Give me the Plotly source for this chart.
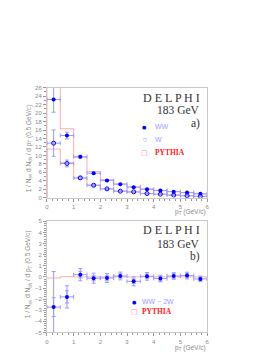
import plotly.graph_objects as go

# ---------------- data ----------------
bin_centers = [0.25, 0.75, 1.25, 1.75, 2.25, 2.75, 3.25, 3.75, 4.25, 4.75, 5.25, 5.75]
bin_edges = [0.0, 0.5, 1.0, 1.5, 2.0, 2.5, 3.0, 3.5, 4.0, 4.5, 5.0, 5.5, 6.0]
bin_half = [0.25] * 12

ww_vals = [23.2, 14.7, 9.7, 5.8, 4.05, 3.2, 2.5, 2.0, 1.7, 1.45, 1.22, 0.95]
ww_err = [3.0, 0.8, 0.35, 0.25, 0.2, 0.15, 0.12, 0.1, 0.1, 0.1, 0.08, 0.08]
w_vals = [12.9, 8.1, 4.7, 2.95, 2.1, 1.55, 1.4, 1.0, 0.85, 0.63, 0.47, 0.32]
w_err = [3.1, 0.8, 0.35, 0.25, 0.15, 0.12, 0.1, 0.1, 0.08, 0.08, 0.06, 0.06]
pythia_ww = [27.0, 16.3, 9.5, 6.2, 4.3, 3.3, 2.6, 2.1, 1.75, 1.45, 1.2, 0.95]
pythia_w = [11.5, 8.3, 4.6, 3.0, 2.1, 1.6, 1.35, 1.0, 0.85, 0.65, 0.5, 0.35]

diff_vals = [-2.72, -1.8, 0.2, -0.12, -0.1, 0.08, -0.4, 0.05, -0.15, 0.08, 0.12, -0.18]
diff_err_stat = [0.85, 0.55, 0.3, 0.22, 0.2, 0.2, 0.2, 0.2, 0.2, 0.2, 0.2, 0.15]
diff_err_tot = [3.2, 1.0, 0.55, 0.45, 0.4, 0.35, 0.4, 0.35, 0.3, 0.3, 0.3, 0.25]
pythia_diff = [-0.1, 0.02, 0.0, 0.0, 0.0, 0.0, 0.0, 0.0, 0.0, 0.0, 0.0, 0.0]

x_ticks = [0, 1, 2, 3, 4, 5, 6]
y_ticks_top = list(range(0, 27, 2))
y_ticks_bot = list(range(-5, 6, 1))

# ---------------- styling ----------------
BLUE = "#0000ff"
ERR = "#9a9aff"
RED = "rgba(255,70,70,0.45)"
GRID = "#c8c8c8"
TICKC = "#999999"
MS = 4

def step(vals):
    xs = [bin_edges[0]] + bin_edges
    ys = [0.0] + vals + [vals[-1]]
    return xs, ys

fig = go.Figure()

# ---- top panel ----
for pv in (pythia_ww, pythia_w):
    xs, ys = step(pv)
    fig.add_trace(go.Scatter(x=xs, y=ys, mode="lines", line=dict(color=RED, width=1, shape="hv"),
                             showlegend=False, xaxis="x", yaxis="y", hoverinfo="skip"))

fig.add_trace(go.Scatter(
    x=bin_centers, y=ww_vals, mode="markers", showlegend=False,
    marker=dict(symbol="circle", size=MS, color=BLUE),
    error_y=dict(type="data", array=ww_err, color=ERR, thickness=1, width=2),
    error_x=dict(type="data", array=bin_half, color=ERR, thickness=1, width=2),
    xaxis="x", yaxis="y"))
fig.add_trace(go.Scatter(
    x=bin_centers, y=w_vals, mode="markers", showlegend=False,
    marker=dict(symbol="circle-open", size=MS, color=BLUE, line=dict(width=1)),
    error_y=dict(type="data", array=w_err, color=ERR, thickness=1, width=2),
    error_x=dict(type="data", array=bin_half, color=ERR, thickness=1, width=2),
    xaxis="x", yaxis="y"))

# ---- bottom panel ----
xs, ys = step(pythia_diff)
fig.add_trace(go.Scatter(x=xs[1:], y=ys[1:], mode="lines", line=dict(color=RED, width=1, shape="hv"),
                         showlegend=False, xaxis="x2", yaxis="y2", hoverinfo="skip"))
fig.add_trace(go.Scatter(
    x=bin_centers, y=diff_vals, mode="markers", showlegend=False,
    marker=dict(size=MS, color="rgba(0,0,0,0)"),
    error_y=dict(type="data", array=diff_err_tot, color=ERR, thickness=1, width=2),
    xaxis="x2", yaxis="y2", hoverinfo="skip"))
fig.add_trace(go.Scatter(
    x=bin_centers, y=diff_vals, mode="markers", showlegend=False,
    marker=dict(symbol="circle", size=MS, color=BLUE),
    error_y=dict(type="data", array=diff_err_stat, color=ERR, thickness=1, width=2),
    error_x=dict(type="data", array=bin_half, color=ERR, thickness=1, width=2),
    xaxis="x2", yaxis="y2"))

W, H = 273, 353
xdom = [37.5 / W, 200 / W]
ytop = [1 - 190 / H, 1 - 78 / H]
ybot = [1 - 327 / H, 1 - 214 / H]

axis_common = dict(showline=True, linecolor=GRID, linewidth=1, mirror=True, showgrid=False,
                   zeroline=False, ticks="outside", ticklen=3, tickcolor=TICKC,
                   tickfont=dict(size=6, color="#888888", family="Liberation Sans"))

ytitle = "1 / N<sub>ev</sub> d N<sub>ch</sub> / d p<sub>T</sub> (0.5 GeV/c)"

fig.update_layout(
    width=W, height=H, margin=dict(l=0, r=0, t=0, b=0),
    paper_bgcolor="white", plot_bgcolor="white", showlegend=False,
    xaxis=dict(domain=xdom, range=[0, 6], tickvals=x_ticks, anchor="y",
               minor=dict(dtick=0.2, ticks="outside", ticklen=2, tickcolor=TICKC), **axis_common),
    yaxis=dict(domain=ytop, range=[0, 26], tickvals=y_ticks_top, anchor="x",
               minor=dict(dtick=1, ticks="outside", ticklen=2, tickcolor=TICKC), **axis_common),
    xaxis2=dict(domain=xdom, range=[0, 6], tickvals=x_ticks, anchor="y2",
                minor=dict(dtick=0.2, ticks="outside", ticklen=2, tickcolor=TICKC), **axis_common),
    yaxis2=dict(domain=ybot, range=[-5, 5], tickvals=y_ticks_bot, anchor="x2",
                minor=dict(dtick=0.2, ticks="outside", ticklen=2, tickcolor=TICKC), **axis_common),
)

def ann(text, x, y, font, xanchor="right", **kw):
    fig.add_annotation(text=text, xref="paper", yref="paper", x=x / W, y=1 - y / H,
                       xanchor=xanchor, yanchor="middle", showarrow=False, font=font, **kw)

big = dict(family="Liberation Serif", size=12, color="#333333")
mid = dict(family="Liberation Serif", size=11.5, color="#333333")
ann("D E L P H I", 195, 88, big)
ann("183 GeV", 195, 101, mid)
ann("a)", 195, 114, mid)
ann("D E L P H I", 195, 223, big)
ann("183 GeV", 195, 237, mid)
ann("b)", 195, 250, mid)

# legends
leg_txt = dict(family="Liberation Sans", size=7, color="#9a9aff")
leg_red = dict(family="Liberation Serif", size=7.5, color="#ff2020")
ann("●", 137, 118, dict(family="DejaVu Sans", size=5, color=BLUE), xanchor="center")
ann("WW", 145, 118, leg_txt, xanchor="left")
ann("○", 137, 131, dict(family="DejaVu Sans", size=4.5, color="#6060ff"), xanchor="center")
ann("W", 145, 131, leg_txt, xanchor="left")
ann("□", 137, 144, dict(family="DejaVu Sans", size=7, color="rgba(255,80,80,0.7)"), xanchor="center")
ann("<b>PYTHIA</b>", 145, 144, leg_red, xanchor="left")

ann("●", 126, 296, dict(family="DejaVu Sans", size=5, color=BLUE), xanchor="center")
ann("WW − 2W", 132, 296, leg_txt, xanchor="left")
ann("□", 126, 306, dict(family="DejaVu Sans", size=7, color="rgba(255,80,80,0.7)"), xanchor="center")
ann("<b>PYTHIA</b>", 132, 306, leg_red, xanchor="left")

for yc in [140, 268]:
    ann(ytitle, 19, yc, dict(size=6.5, color="#888888", family="Liberation Sans"),
        xanchor="center", textangle=-90)
for yc in [204, 343]:
    ann("p<sub>T</sub> (GeV/c)", 201, yc, dict(size=6.5, color="#888888", family="Liberation Sans"))

fig.write_html("out.html")
